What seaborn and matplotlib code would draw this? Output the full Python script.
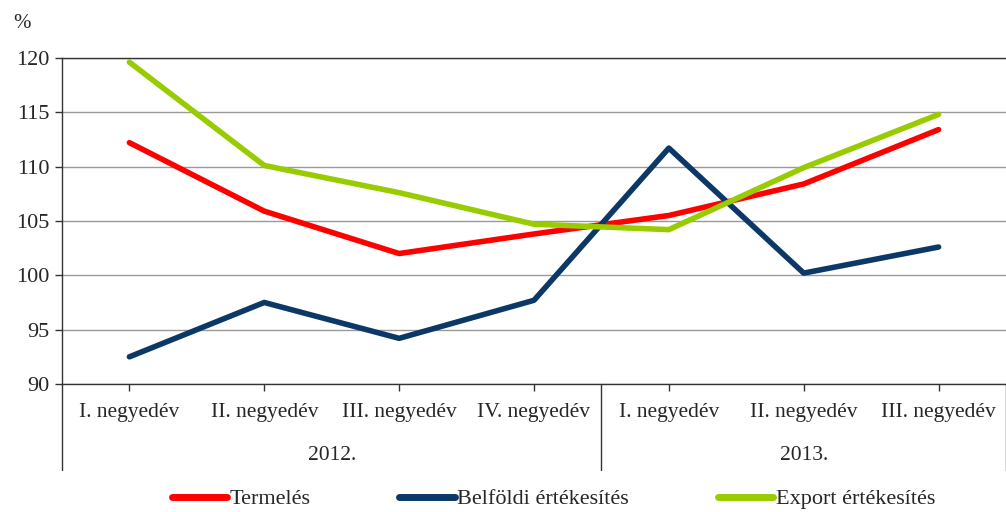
import pandas as pd, numpy as np, matplotlib
matplotlib.use('Agg')
import matplotlib.pyplot as plt
import seaborn as sns
from matplotlib.lines import Line2D

sns.set_theme(style='white')
plt.rcParams['font.family'] = ['Liberation Serif', 'DejaVu Serif']

quarters = ['I. negyedév', 'II. negyedév', 'III. negyedév', 'IV. negyedév',
            'I. negyedév', 'II. negyedév', 'III. negyedév']
years = ['2012.', '2013.']
termeles = [112.2, 105.9, 102.0, 103.8, 105.5, 108.4, 113.4]
belfoldi = [92.5, 97.5, 94.2, 97.7, 111.7, 100.2, 102.6]
export = [119.6, 110.1, 107.6, 104.7, 104.2, 109.9, 114.8]
series = ['Termelés', 'Belföldi értékesítés', 'Export értékesítés']
colors = ['#ff0000', '#0c3868', '#99cc00']

df = pd.DataFrame({
    'x': list(range(7)) * 3,
    'value': termeles + belfoldi + export,
    'series': np.repeat(series, 7),
})

fig = plt.figure(figsize=(10.06, 5.12), dpi=100)
ax = fig.add_axes([0.0616, 0.25, 0.9384, 0.637])
sns.lineplot(data=df, x='x', y='value', hue='series', palette=colors,
             hue_order=series, lw=4, ax=ax, legend=False, sort=False)

ax.set_xlim(-0.5, 6.5)
ax.set_ylim(90, 120)
ax.set_yticks(range(90, 121, 5))
ax.yaxis.grid(True, color='#999999', lw=1)
ax.set_axisbelow(True)
ax.spines['right'].set_visible(False)
for s in ['left', 'bottom', 'top']:
    ax.spines[s].set_color('#333333')
    ax.spines[s].set_linewidth(1)
ax.set_xticks(range(7))
ax.set_xticklabels(quarters, fontsize=15.5)
ax.tick_params(axis='x', direction='out', length=5, width=1, color='#333333', pad=9)
ax.tick_params(axis='y', direction='out', length=5, width=1, color='#333333', labelsize=16, pad=4)
ax.tick_params(left=True, bottom=True)
ax.set_xlabel('')
ax.set_ylabel('')

# year separators and labels
ext = -(470 - 384) / 326
for xv in [-0.5, 3.5, 6.5]:
    ax.add_line(Line2D([xv, xv], [0, ext], color='#333333', lw=1,
                       transform=ax.get_xaxis_transform(), clip_on=False))
for xc, yr in zip([1.5, 5.0], years):
    ax.text(xc, -(455 - 384) / 326, yr, transform=ax.get_xaxis_transform(),
            ha='center', va='center', fontsize=15.5)

fig.text(0.022, 0.955, '%', fontsize=15, ha='center', va='center')

handles = [Line2D([], [], color=c, lw=5) for c in colors]
fig.legend(handles, series, loc='center', bbox_to_anchor=(0.55, 0.025), ncol=3,
           frameon=False, fontsize=16, handlelength=2.5, handletextpad=0.1,
           columnspacing=4.0)

plt.savefig('out.png', dpi=100)
plt.close()
